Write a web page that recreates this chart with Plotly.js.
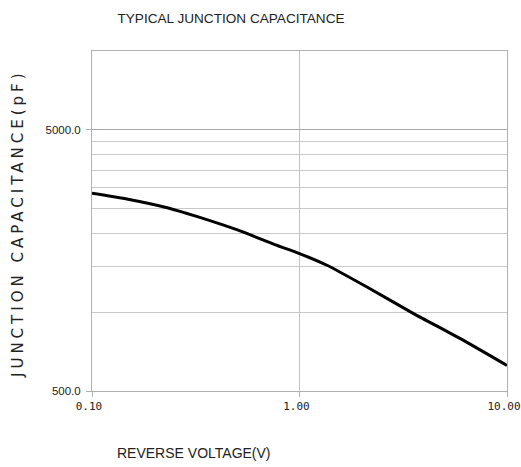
<!DOCTYPE html>
<html>
<head>
<meta charset="utf-8">
<script src="https://cdn.plot.ly/plotly-3.0.1.min.js"></script>
<style>
html,body{margin:0;padding:0;background:#fff;}
#chart{width:521px;height:467px;}
#chart .annotation.ytitle-ann text{letter-spacing:4px;}
</style>
</head>
<body>
<div id="chart"></div>
<script>
// Data
const voltage = [0.1, 0.149, 0.233, 0.325, 0.506, 0.761, 1.0, 1.356, 2.114, 3.547, 5.961, 10.0];
const capacitance = [2857, 2710, 2509, 2318, 2062, 1817, 1679, 1514, 1250, 989, 793, 626];
const xTickVals = [0.1, 1, 10];
const xTickText = ["0.10", "1.00", "10.00"];
const yTickVals = [500, 5000];
const yTickText = ["500.0", "5000.0"];
const yMinorGrid = [1000, 1500, 2000, 2500, 3000, 3500, 4000, 4500];

const sans = '"Liberation Sans", Arial, sans-serif';

const trace = {
  x: voltage, y: capacitance, type: 'scatter', mode: 'lines',
  line: {color: '#000', width: 3, shape: 'spline', smoothing: 0.6},
  hoverinfo: 'skip'
};

const layout = {
  width: 521, height: 467,
  margin: {l: 92, r: 14, t: 51, b: 76},
  paper_bgcolor: '#fff', plot_bgcolor: '#fff',
  showlegend: false,
  title: {text: 'TYPICAL JUNCTION CAPACITANCE', x: 231/521, xanchor: 'center', xref: 'container',
          y: 1 - 18/467, yanchor: 'middle', yref: 'container',
          font: {family: sans, size: 13.6, color: '#222'}},
  xaxis: {
    type: 'log', range: [-1, 1],
    tickmode: 'array', tickvals: xTickVals, ticktext: xTickText,
    showgrid: true, gridcolor: '#c4c4c4', gridwidth: 1,
    showline: true, linecolor: '#b0b0b0', linewidth: 1, mirror: true,
    ticks: 'outside', ticklen: 5, tickcolor: '#b0b0b0',
    ticklabeloverflow: 'allow',
    ticklabelshift: -3,
    tickfont: {family: '"DejaVu Sans Mono", monospace', size: 11, color: '#222'},
    zeroline: false, fixedrange: true
  },
  yaxis: {
    type: 'log', range: [Math.log10(500), 4],
    tickmode: 'array', tickvals: yTickVals, ticktext: yTickText,
    showgrid: true, gridcolor: '#a8a8a8', gridwidth: 1,
    showline: true, linecolor: '#b0b0b0', linewidth: 1, mirror: true,
    ticks: 'outside', ticklen: 5, tickcolor: '#b0b0b0',
    ticklabelstandoff: 3,
    tickfont: {family: sans, size: 11.5, color: '#222'},
    minor: {tickmode: 'array', tickvals: yMinorGrid, showgrid: true, gridcolor: '#c8c8c8', gridwidth: 1, ticklen: 0},
    zeroline: false, fixedrange: true
  },
  annotations: [
    {text: 'JUNCTION CAPACITANCE(pF)', textangle: -90, xref: 'paper', yref: 'paper',
     x: (18-92)/415, y: 0.5 - 3/340, xanchor: 'center', yanchor: 'middle', showarrow: false,
     name: 'ytitle',
     font: {family: '"DejaVu Sans", sans-serif', size: 15, color: '#222'}},
    {text: 'REVERSE VOLTAGE(V)', xref: 'paper', yref: 'paper',
     x: (194-92)/415, y: -(453-391)/340, xanchor: 'center', yanchor: 'middle', showarrow: false,
     font: {family: sans, size: 14, color: '#222'}}
  ]
};

Plotly.newPlot('chart', [trace], layout, {staticPlot: true, displayModeBar: false}).then(function(gd){
  const t = gd.querySelectorAll('.annotation')[0];
  if (t) { t.classList.add('ytitle-ann'); }
});
</script>
</body>
</html>
